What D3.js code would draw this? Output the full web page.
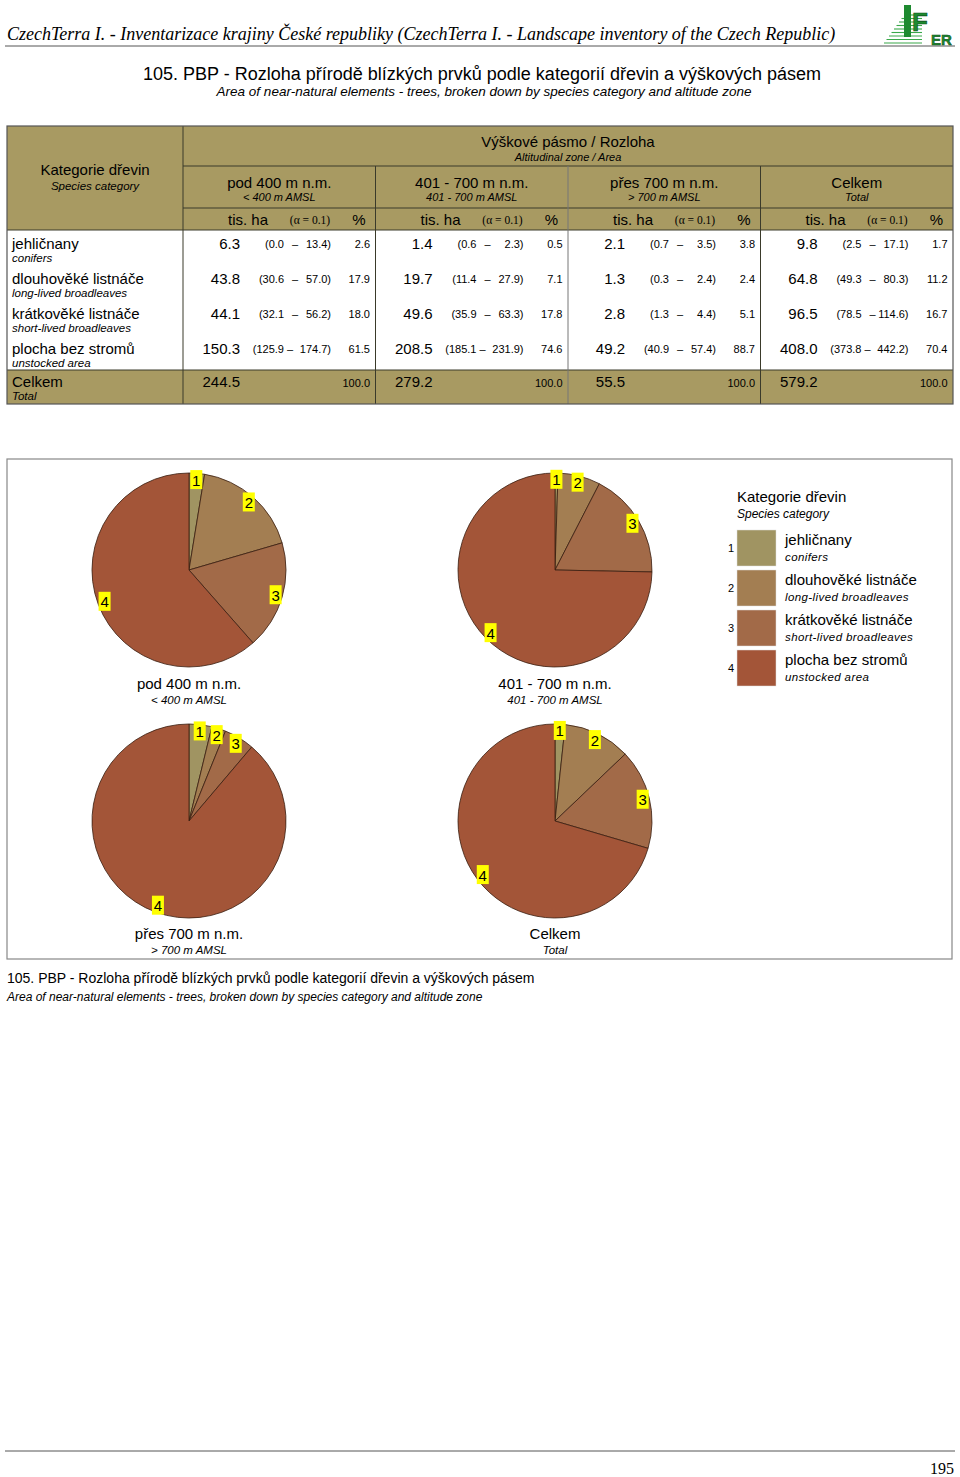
<!DOCTYPE html>
<html>
<head>
<meta charset="utf-8">
<script src="https://d3js.org/d3.v7.min.js"></script>
<style>
  body { margin: 0; background: #fff; }
  svg { display: block; font-family: "Liberation Sans", Arial, sans-serif; }
</style>
</head>
<body>
<svg id="page" width="960" height="1477"></svg>
<script>
// categories
var catCz = ["jehličnany", "dlouhověké listnáče", "krátkověké listnáče", "plocha bez stromů"];
var catEn = ["conifers", "long-lived broadleaves", "short-lived broadleaves", "unstocked area"];
var zoneCz = ["pod 400 m n.m.", "401 - 700 m n.m.", "přes 700 m n.m.", "Celkem"];
var zoneEn = ["< 400 m AMSL", "401 - 700 m AMSL", "> 700 m AMSL", "Total"];
var pieEn = ["< 400 m AMSL", "401 - 700 m AMSL", "> 700 m AMSL", "Total"];

// area, thousand ha (per zone, per category)
var areaHa = [
  [6.3, 43.8, 44.1, 150.3],
  [1.4, 19.7, 49.6, 208.5],
  [2.1, 1.3, 2.8, 49.2],
  [9.8, 64.8, 96.5, 408.0]
];
var ciLow = [
  [0.0, 30.6, 32.1, 125.9],
  [0.6, 11.4, 35.9, 185.1],
  [0.7, 0.3, 1.3, 40.9],
  [2.5, 49.3, 78.5, 373.8]
];
var ciHigh = [
  [13.4, 57.0, 56.2, 174.7],
  [2.3, 27.9, 63.3, 231.9],
  [3.5, 2.4, 4.4, 57.4],
  [17.1, 80.3, 114.6, 442.2]
];
var pct = [
  [2.6, 17.9, 18.0, 61.5],
  [0.5, 7.1, 17.8, 74.6],
  [3.8, 2.4, 5.1, 88.7],
  [1.7, 11.2, 16.7, 70.4]
];
var totalHa = [244.5, 279.2, 55.5, 579.2];
var totalPct = [100.0, 100.0, 100.0, 100.0];

var colors = ["#a09462", "#a37e52", "#a26a48", "#a35538"];
var headBg = "#a89a62";

var svg = d3.select("#page");
var fmt = d3.format(".1f");

// ---------- page header ----------
svg.append("text")
  .attr("x", 7).attr("y", 40)
  .style("font-family", "'Liberation Serif', serif")
  .style("font-style", "italic")
  .style("font-size", "18px")
  .text("CzechTerra I. - Inventarizace krajiny České republiky (CzechTerra I. - Landscape inventory of the Czech Republic)");

svg.append("line")
  .attr("x1", 5).attr("x2", 955).attr("y1", 46).attr("y2", 46)
  .attr("stroke", "#555").attr("stroke-width", 1);

// logo
var logo = svg.append("g").attr("transform", "translate(882,3)");
d3.range(9).forEach(function(i) {
  var y = 12 + i * 3.5;
  logo.append("line")
    .attr("x1", 22 - i * 2.5).attr("x2", 40).attr("y1", y).attr("y2", y)
    .attr("stroke", "#3aa84a").attr("stroke-width", 1.1);
});
logo.append("rect").attr("x", 22).attr("y", 2).attr("width", 7).attr("height", 32).attr("fill", "#1e8a30");
logo.append("text").attr("x", 30).attr("y", 28)
  .style("font-size", "26px").style("font-weight", "bold").attr("fill", "#1e8a30")
  .attr("stroke", "#0d4a18").attr("stroke-width", 0.6).text("F");
logo.append("text").attr("x", 49).attr("y", 42)
  .style("font-size", "15px").style("font-weight", "bold").attr("fill", "#1e8a30")
  .attr("stroke", "#0d4a18").attr("stroke-width", 0.5).text("ER");

// title
svg.append("text").attr("x", 482).attr("y", 80).attr("text-anchor", "middle")
  .style("font-size", "18px")
  .text("105. PBP - Rozloha přírodě blízkých prvků podle kategorií dřevin a výškových pásem");
svg.append("text").attr("x", 484).attr("y", 96).attr("text-anchor", "middle")
  .style("font-size", "13.5px").style("font-style", "italic")
  .text("Area of near-natural elements - trees, broken down by species category and altitude zone");

// ---------- table ----------
var tX0 = 7, tX1 = 953, tY0 = 126;
var colX = d3.scaleBand().domain(d3.range(4)).range([183, tX1]);
var rowY = d3.scaleBand().domain(d3.range(4)).range([230, 370]);
var totY0 = 370, tY1 = 404;

var tbl = svg.append("g");
tbl.append("rect").attr("x", tX0).attr("y", tY0).attr("width", tX1 - tX0).attr("height", 230 - tY0).attr("fill", headBg);
tbl.append("rect").attr("x", tX0).attr("y", totY0).attr("width", tX1 - tX0).attr("height", tY1 - totY0).attr("fill", headBg);

// grid lines
var lineC = "#3a3a2a";
[[183, tX1, 166], [183, tX1, 208], [tX0, tX1, 230], [tX0, tX1, 370]].forEach(function(l) {
  tbl.append("line").attr("x1", l[0]).attr("x2", l[1]).attr("y1", l[2]).attr("y2", l[2])
    .attr("stroke", lineC).attr("stroke-width", 1);
});
tbl.append("line").attr("x1", 183).attr("x2", 183).attr("y1", tY0).attr("y2", tY1).attr("stroke", lineC);
d3.range(1, 4).forEach(function(g) {
  tbl.append("line").attr("x1", colX(g)).attr("x2", colX(g)).attr("y1", 166).attr("y2", tY1)
    .attr("stroke", g === 2 ? "#777" : lineC);
});
tbl.append("rect").attr("x", tX0).attr("y", tY0).attr("width", tX1 - tX0).attr("height", tY1 - tY0)
  .attr("fill", "none").attr("stroke", "#555").attr("stroke-width", 1.2);

tbl.append("text").attr("x", 95).attr("y", 175).attr("text-anchor", "middle")
  .style("font-size", "15px").text("Kategorie dřevin");
tbl.append("text").attr("x", 95).attr("y", 190).attr("text-anchor", "middle")
  .style("font-size", "11.5px").style("font-style", "italic").text("Species category");

tbl.append("text").attr("x", 568).attr("y", 147).attr("text-anchor", "middle")
  .style("font-size", "15px").text("Výškové pásmo / Rozloha");
tbl.append("text").attr("x", 568).attr("y", 161).attr("text-anchor", "middle")
  .style("font-size", "11px").style("font-style", "italic").text("Altitudinal zone / Area");

d3.range(4).forEach(function(g) {
  var x = colX(g), w = colX.bandwidth();
  tbl.append("text").attr("x", x + w / 2).attr("y", 188).attr("text-anchor", "middle")
    .style("font-size", "15px").text(zoneCz[g]);
  tbl.append("text").attr("x", x + w / 2).attr("y", 201).attr("text-anchor", "middle")
    .style("font-size", "11px").style("font-style", "italic").text(zoneEn[g]);
  tbl.append("text").attr("x", x + 65).attr("y", 225).attr("text-anchor", "middle")
    .style("font-size", "15px").text("tis. ha");
  tbl.append("text").attr("x", x + 127).attr("y", 224).attr("text-anchor", "middle")
    .style("font-family", "'Liberation Serif', serif").style("font-size", "11.5px").text("(α = 0.1)");
  tbl.append("text").attr("x", x + 176).attr("y", 225).attr("text-anchor", "middle")
    .style("font-size", "15px").text("%");

  d3.range(4).forEach(function(c) {
    var y = rowY(c);
    tbl.append("text").attr("x", x + 57).attr("y", y + 19).attr("text-anchor", "end")
      .style("font-size", "15px").text(fmt(areaHa[g][c]));
    tbl.append("text").attr("x", x + 101).attr("y", y + 18).attr("text-anchor", "end")
      .style("font-size", "11px").text("(" + fmt(ciLow[g][c]));
    tbl.append("text").attr("x", x + (ciLow[g][c] >= 100 ? 107 : 112)).attr("y", y + 18).attr("text-anchor", "middle")
      .style("font-size", "11px").text("–");
    tbl.append("text").attr("x", x + 148).attr("y", y + 18).attr("text-anchor", "end")
      .style("font-size", "11px").text(fmt(ciHigh[g][c]) + ")");
    tbl.append("text").attr("x", x + 187).attr("y", y + 18).attr("text-anchor", "end")
      .style("font-size", "11px").text(fmt(pct[g][c]));
  });

  tbl.append("text").attr("x", x + 57).attr("y", totY0 + 17).attr("text-anchor", "end")
    .style("font-size", "15px").text(fmt(totalHa[g]));
  tbl.append("text").attr("x", x + 187).attr("y", totY0 + 17).attr("text-anchor", "end")
    .style("font-size", "11px").text(fmt(totalPct[g]));
});

d3.range(4).forEach(function(c) {
  var y = rowY(c);
  tbl.append("text").attr("x", 12).attr("y", y + 19).style("font-size", "15px").text(catCz[c]);
  tbl.append("text").attr("x", 12).attr("y", y + 32).style("font-size", "11.5px").style("font-style", "italic").text(catEn[c]);
});
tbl.append("text").attr("x", 12).attr("y", totY0 + 17).style("font-size", "15px").text("Celkem");
tbl.append("text").attr("x", 12).attr("y", totY0 + 30).style("font-size", "11.5px").style("font-style", "italic").text("Total");

// ---------- pies ----------
svg.append("rect").attr("x", 7).attr("y", 459).attr("width", 945).attr("height", 500)
  .attr("fill", "none").attr("stroke", "#888").attr("stroke-width", 1.2);

var r = 97;
var centers = [[189, 570], [555, 570], [189, 821], [555, 821]];
var pie = d3.pie().sort(null).value(function(d) { return d; });
var arc = d3.arc().innerRadius(0).outerRadius(r);
var labelArc = d3.arc().innerRadius(r * 0.93).outerRadius(r * 0.93);

d3.range(4).forEach(function(g) {
  var gp = svg.append("g").attr("transform", "translate(" + centers[g][0] + "," + centers[g][1] + ")");
  var arcs = pie(areaHa[g]);
  gp.selectAll("path").data(arcs).enter().append("path")
    .attr("d", arc)
    .attr("fill", function(d, i) { return colors[i]; })
    .attr("stroke", "#3a1e10").attr("stroke-width", 0.8);

  var lab = gp.selectAll("g.lab").data(arcs).enter().append("g")
    .attr("class", "lab")
    .attr("transform", function(d) { var c = labelArc.centroid(d); return "translate(" + c[0] + "," + c[1] + ")"; });
  lab.append("rect").attr("x", -6).attr("y", -10).attr("width", 12).attr("height", 19).attr("fill", "#ffff00");
  lab.append("text").attr("y", 5.5).attr("text-anchor", "middle")
    .style("font-size", "15px").text(function(d, i) { return i + 1; });

  var ty = g < 2 ? 689 : 939;
  svg.append("text").attr("x", centers[g][0]).attr("y", ty).attr("text-anchor", "middle")
    .style("font-size", "15px").text(zoneCz[g]);
  svg.append("text").attr("x", centers[g][0]).attr("y", ty + 15).attr("text-anchor", "middle")
    .style("font-size", "11.5px").style("font-style", "italic").text(pieEn[g]);
});

// legend
var leg = svg.append("g");
leg.append("text").attr("x", 737).attr("y", 502).style("font-size", "15px").text("Kategorie dřevin");
leg.append("text").attr("x", 737).attr("y", 518).style("font-size", "12px").style("font-style", "italic").text("Species category");
var legY = d3.scaleBand().domain(d3.range(4)).range([530, 686]).paddingInner(0.1);
d3.range(4).forEach(function(c) {
  var y = legY(c);
  leg.append("rect").attr("x", 737).attr("y", y).attr("width", 39).attr("height", legY.bandwidth())
    .attr("fill", colors[c]).attr("stroke", "#ddd").attr("stroke-width", 0.5);
  leg.append("text").attr("x", 734).attr("y", y + legY.bandwidth() / 2 + 4).attr("text-anchor", "end")
    .style("font-size", "11px").text(c + 1);
  leg.append("text").attr("x", 785).attr("y", y + 15).style("font-size", "15px").text(catCz[c]);
  leg.append("text").attr("x", 785).attr("y", y + 31).style("font-size", "11.5px").style("font-style", "italic")
    .style("letter-spacing", "0.4px").text(catEn[c]);
});

// caption
svg.append("text").attr("x", 7).attr("y", 983).style("font-size", "14px")
  .text("105. PBP - Rozloha přírodě blízkých prvků podle kategorií dřevin a výškových pásem");
svg.append("text").attr("x", 7).attr("y", 1001).style("font-size", "12px").style("font-style", "italic")
  .text("Area of near-natural elements - trees, broken down by species category and altitude zone");

// footer
svg.append("line").attr("x1", 5).attr("x2", 955).attr("y1", 1451).attr("y2", 1451)
  .attr("stroke", "#555").attr("stroke-width", 1);
svg.append("text").attr("x", 954).attr("y", 1474).attr("text-anchor", "end")
  .style("font-family", "'Liberation Serif', serif").style("font-size", "16px").text("195");
</script>
</body>
</html>
